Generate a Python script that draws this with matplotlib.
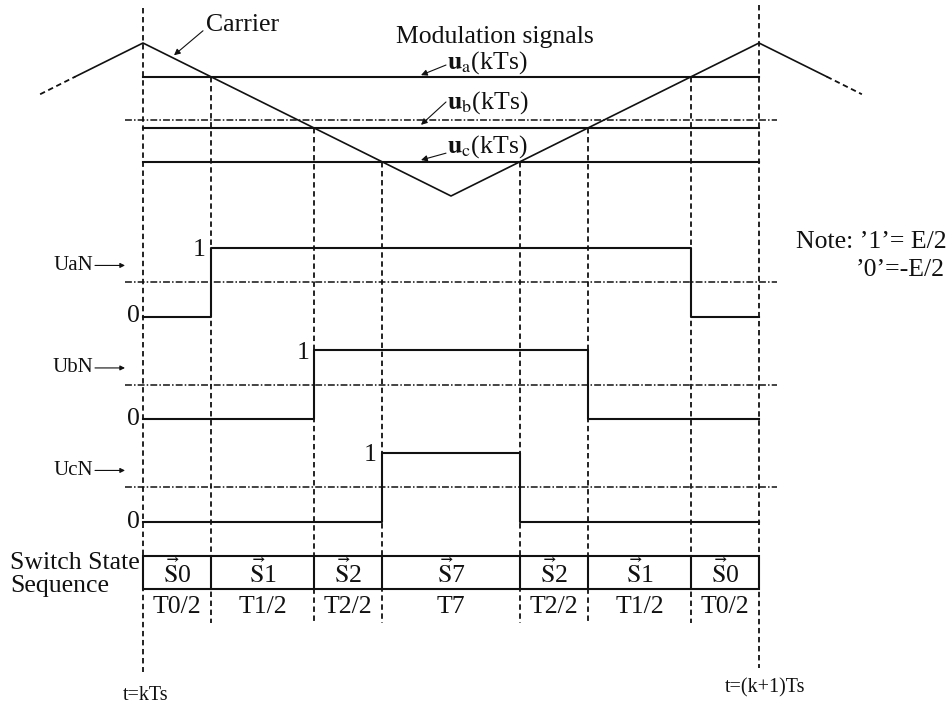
import matplotlib.pyplot as plt
from matplotlib.patches import Rectangle

plt.rcParams['font.family'] = 'Liberation Serif'
plt.rcParams['mathtext.fontset'] = 'stix'

# switching instants inside one sampling period (units of Ts)
edges = [0.0, 0.11, 0.278, 0.388, 0.612, 0.722, 0.89, 1.0]
states = ['0', '1', '2', '7', '2', '1', '0']
durations = ['T0/2', 'T1/2', 'T2/2', 'T7', 'T2/2', 'T1/2', 'T0/2']

# triangular carrier (per unit) plus the dashed tails outside the period
carrier_t = [-0.11, 0.0, 0.5, 1.0, 1.11]
carrier_v = [0.56, 1.0, -1.0, 1.0, 0.56]
tail_left_t, tail_left_v = [-0.167, -0.11], [0.33, 0.56]
tail_right_t, tail_right_v = [1.11, 1.167], [0.56, 0.33]

# sampled modulation signals u_x(kTs)
mod_names = ['a', 'b', 'c']
mod_values = [0.555, -0.11, -0.56]

# pole voltages per segment ('1' = E/2, '0' = -E/2)
phase_names = ['UaN', 'UbN', 'UcN']
phase_levels = [
    [0, 1, 1, 1, 1, 1, 0],
    [0, 0, 1, 1, 1, 0, 0],
    [0, 0, 0, 1, 0, 0, 0],
]

# layout (pixels)
W, H = 952, 704
X0, X1 = 143, 759
CY0, CS = 119.5, 76.5          # carrier zero line, px per unit
PANEL_MID = [282, 384.5, 487]
PH = 69                         # px between '0' and '1'
BOX_TOP, BOX_BOT = 556, 589
K = '#111111'
FS = 18.5


def tx(px):
    return (px - X0) / (X1 - X0)


XL = (tx(0), tx(W))
fig = plt.figure(figsize=(W / 100, H / 100), dpi=100)


def make_ax(ylim):
    ax = fig.add_axes([0, 0, 1, 1])
    ax.set_xlim(XL)
    ax.set_ylim(ylim)
    ax.axis('off')
    return ax


def ftext(px, py, s, **kw):
    fig.text(px / W, 1 - py / H, s, color=K, **kw)


vdash = dict(color=K, lw=1.3, ls=(0, (3, 2)))
dashdot = dict(color=K, lw=1.1, ls=(0, (4.5, 1.4, 1.0, 1.4)))
arrow = dict(arrowstyle='-|>', color=K, lw=0.8, mutation_scale=9,
             shrinkA=0, shrinkB=0)

# ---- background: vertical dashed time markers + switch state box
bg = make_ax((H, 0))
bg.plot([edges[0]] * 2, [8, 672], **vdash)
bg.plot([edges[-1]] * 2, [5, 668], **vdash)
for i in range(1, len(edges) - 1):
    k = [j for j, lv in enumerate(phase_levels) if lv[i - 1] != lv[i]][0]
    start = CY0 - CS * mod_values[k]
    bg.plot([edges[i]] * 2, [start, 623], **vdash)

bg.add_patch(Rectangle((edges[0], BOX_TOP), edges[-1] - edges[0],
                       BOX_BOT - BOX_TOP, fill=False, ec=K, lw=1.5))
for i in range(1, len(edges) - 1):
    bg.plot([edges[i]] * 2, [BOX_TOP, BOX_BOT], color=K, lw=1.5)
for i in range(len(states)):
    mid = (edges[i] + edges[i + 1]) / 2
    bg.text(mid, (BOX_TOP + BOX_BOT) / 2 + 1, r'$\vec{\mathrm{S}}$' + states[i],
            ha='center', va='center', fontsize=FS, color=K)
    bg.text(mid, 607, durations[i], ha='center', va='center',
            fontsize=FS, color=K)

# ---- carrier and modulation signals
ac = make_ax(((CY0 - H) / CS, CY0 / CS))
ac.plot(carrier_t, carrier_v, color=K, lw=1.2)
ac.plot(tail_left_t, tail_left_v, color=K, lw=1.3, ls=(0, (3, 2)))
ac.plot(tail_right_t, tail_right_v, color=K, lw=1.3, ls=(0, (3, 2)))
ac.plot([tx(125), tx(777)], [0, 0], **dashdot)
label_pos = [(0.75, 0.712, 0.58), (0.216, 0.229, -0.07), (-0.36, -0.44, -0.53)]
for name, u, (ly, ay, hy) in zip(mod_names, mod_values, label_pos):
    ac.plot([edges[0], edges[-1]], [u, u], color=K, lw=1.5)
    ac.text(tx(447), ly, r'$\mathbf{u}_{\mathrm{%s}}$(kTs)' % name,
            ha='left', va='center', fontsize=FS, color=K)
    ac.annotate('', xy=(tx(421), hy), xytext=(tx(446), ay), arrowprops=arrow)
ac.text(tx(206), 1.24, 'Carrier', ha='left', va='center', fontsize=FS, color=K)
ac.annotate('', xy=(tx(174), 0.84), xytext=(tx(203), 1.16), arrowprops=arrow)
ac.text(tx(396), 1.08, 'Modulation signals', ha='left', va='center',
        fontsize=FS, color=K)

# ---- pole voltage waveforms
for name, levels, m in zip(phase_names, phase_levels, PANEL_MID):
    ap = make_ax(((m + PH / 2 - H) / PH, (m + PH / 2) / PH))
    ap.step(edges, levels + [levels[-1]], where='post', color=K, lw=1.5)
    ap.plot([tx(125), tx(777)], [0.5, 0.5], **dashdot)
    t_on = edges[levels.index(1)]
    ap.text(t_on - tx(X0 + 5), 0.96, '1', ha='right', va='center',
            fontsize=FS, color=K)
    ap.text(edges[0] - tx(X0 + 3), 0.0, '0', ha='right', va='center',
            fontsize=FS, color=K)
    ap.text(tx(93), 0.74, name, ha='right', va='center', fontsize=15, color=K)
    ap.annotate('', xy=(tx(125), 0.74), xytext=(tx(95), 0.74),
                arrowprops=dict(arrow, mutation_scale=7))

# ---- free text
ftext(947, 242, 'Note: \u20191\u2019= E/2', ha='right', va='center', fontsize=FS)
ftext(945, 270, '\u20190\u2019=-E/2', ha='right', va='center', fontsize=FS)
ftext(10, 563, 'Switch State', ha='left', va='center', fontsize=FS)
ftext(10, 586, 'Sequence', ha='left', va='center', fontsize=FS)
ftext(146, 695, 't=kTs', ha='center', va='center', fontsize=14.5)
ftext(765, 688, 't=(k+1)Ts', ha='center', va='center', fontsize=14.5)

fig.savefig('out.png', dpi=100, facecolor='white')
